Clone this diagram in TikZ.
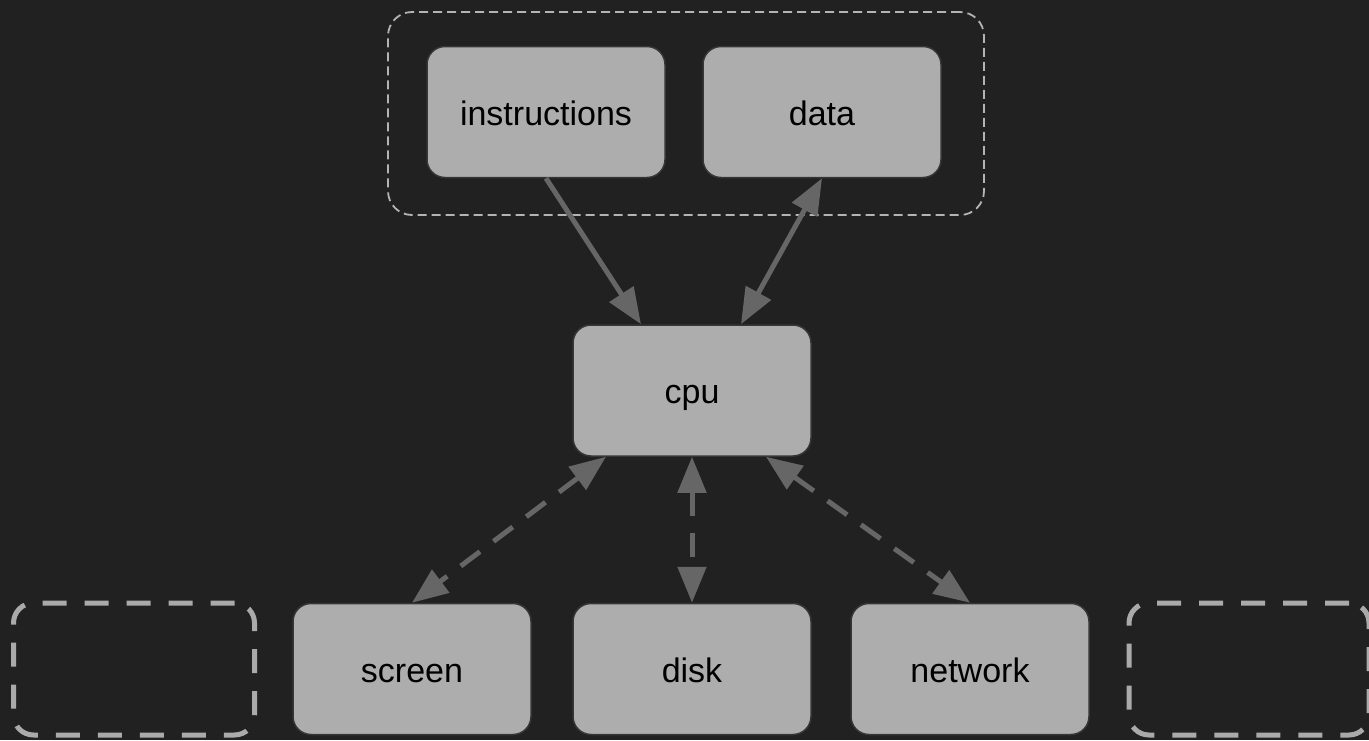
\documentclass[tikz,border=0pt]{standalone}
\usepackage{fontspec}
\setmainfont{Liberation Sans}
\usetikzlibrary{arrows.meta}
\definecolor{bg}{HTML}{212121}
\definecolor{boxfill}{HTML}{ADADAD}
\definecolor{boxline}{HTML}{363636}
\definecolor{linkc}{HTML}{666666}
\definecolor{ghost}{HTML}{AAAAAA}
\definecolor{groupline}{HTML}{B4B4B4}
\begin{document}
\begin{tikzpicture}[x=1pt,y=-1pt,
  unit/.style={draw=boxline, line width=1.5pt, fill=boxfill, rounded corners=18pt,
    minimum width=238pt, minimum height=131pt, inner sep=0pt,
    text height=26pt, text depth=0pt,
    font=\fontsize{34}{40}\selectfont, text=black},
  ghostbox/.style={draw=ghost, line width=5pt, dash pattern=on 24pt off 18pt,
    rounded corners=20pt, minimum height=132pt, inner sep=0pt},
  groupbox/.style={draw=groupline, line width=1.8pt, dash pattern=on 9pt off 5pt,
    rounded corners=24pt, inner sep=0pt},
  link/.style={draw=linkc, line width=5pt, -{Triangle[length=36pt,width=28pt]}},
  biline/.style={draw=linkc, line width=5pt,
    {Triangle[length=36pt,width=28pt]}-{Triangle[length=36pt,width=28pt]}},
  dashedlink/.style={biline, dash pattern=on 24pt off 17pt}]

% canvas
\fill[bg] (0,0) rectangle (1369,740);
\useasboundingbox (0,0) rectangle (1369,740);

% memory group
\node[groupbox, minimum width=596pt, minimum height=203pt] (memory) at (686,113.5) {};
\node[unit] (instructions) at (546,112) {instructions};
\node[unit] (data) at (822,112) {data};

% processor
\node[unit] (cpu) at (692,390.5) {cpu};

% devices
\node[ghostbox, minimum width=241pt] (leftslot) at (134,669) {};
\node[unit] (screen) at (412,669) {screen};
\node[unit] (disk) at (692,669) {disk};
\node[unit] (network) at (970,669) {network};
\node[ghostbox, minimum width=240pt] (rightslot) at (1249,669) {};

% connectors
\draw[link] (instructions.south) -- ([xshift=-51pt]cpu.north);
\draw[biline] ([xshift=49pt]cpu.north) -- (data.south);
\draw[dashedlink] ([xshift=-86pt]cpu.south) -- (screen.north);
\draw[dashedlink] (cpu.south) -- (disk.north);
\draw[dashedlink] ([xshift=74pt]cpu.south) -- (network.north);
\end{tikzpicture}
\end{document}
